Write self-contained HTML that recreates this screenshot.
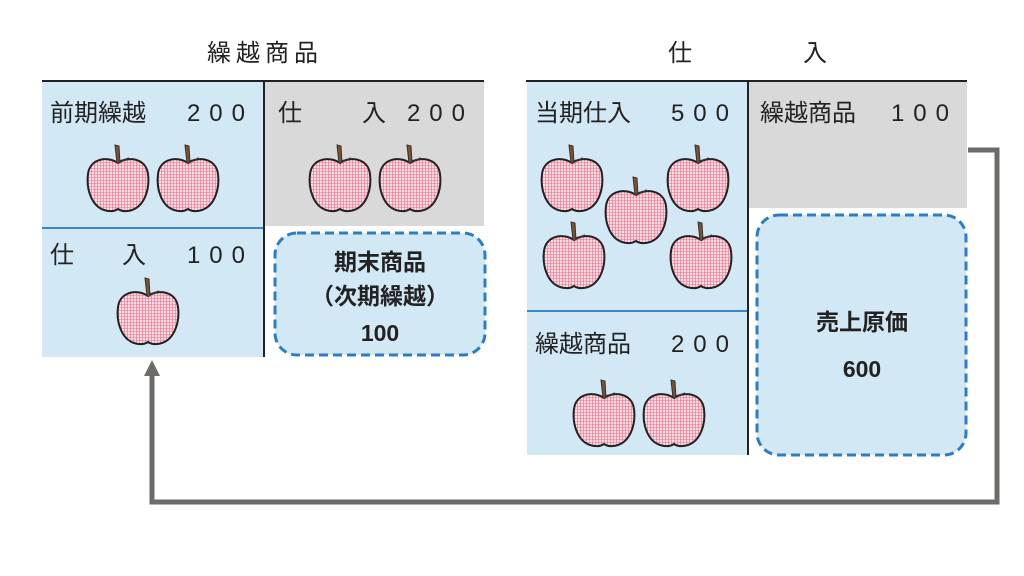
<!DOCTYPE html>
<html><head><meta charset="utf-8"><style>
body{margin:0;width:1024px;height:576px;background:#fff;overflow:hidden}
svg{display:block}
text{font-family:"Liberation Sans","Noto Sans CJK JP",sans-serif;fill:#222}
.b{font-weight:bold}
</style></head><body>
<svg width="1024" height="576" viewBox="0 0 1024 576">
<defs>
<pattern id="p" width="3" height="3" patternUnits="userSpaceOnUse">
<rect width="3" height="3" fill="#fcdde4"/>
<path d="M0 0.5H3M0.5 0V3" stroke="#ec6a85" stroke-width="0.6"/>
</pattern>
<g id="apple">
<path d="M0 -17 C-10 -24 -28 -22 -30 -6 C-32 10 -26 26 -14 30 C-8 32 -3 31 0 29 C3 31 8 32 14 30 C26 26 32 10 30 -6 C28 -22 10 -24 0 -17Z" fill="url(#p)" stroke="#222" stroke-width="2"/>
<path d="M-3 -35 L1 -34 L2 -17 L-1 -17 Z" fill="#7a5230" stroke="#333" stroke-width="1"/>
<path d="M1 -19 Q7 -20 11 -22" stroke="#333" stroke-width="1.5" fill="none"/>
</g>
</defs>
<!-- left account -->
<text x="265" y="61" font-size="24" text-anchor="middle" letter-spacing="5">繰越商品</text>
<rect x="42" y="82" width="221" height="275" fill="#d3e8f5"/>
<line x1="42" y1="228" x2="263" y2="228" stroke="#3a86c8" stroke-width="2"/>
<rect x="265" y="82" width="219" height="144" fill="#d9d9d9"/>
<line x1="42" y1="81" x2="484" y2="81" stroke="#222" stroke-width="2"/>
<line x1="264" y1="82" x2="264" y2="357" stroke="#222" stroke-width="2"/>
<rect x="275" y="233" width="210" height="122" rx="22" fill="#d3e8f5" stroke="#2a7ec7" stroke-width="3" stroke-dasharray="9 5"/>
<text x="50" y="121" font-size="24">前期繰越</text>
<text x="254" y="121" font-size="24" text-anchor="end" letter-spacing="9">200</text>
<text x="278" y="121" font-size="24">仕</text><text x="362" y="121" font-size="24">入</text>
<text x="474" y="121" font-size="24" text-anchor="end" letter-spacing="9">200</text>
<text x="50" y="263" font-size="24">仕</text><text x="122" y="263" font-size="24">入</text>
<text x="254" y="263" font-size="24" text-anchor="end" letter-spacing="9">100</text>
<text x="380" y="270" font-size="23" class="b" text-anchor="middle">期末商品</text>
<text x="380" y="304" font-size="23" class="b" text-anchor="middle">（次期繰越）</text>
<text x="380" y="341" font-size="23" class="b" text-anchor="middle">100</text>
<use href="#apple" x="118" y="180"/><use href="#apple" x="188" y="180"/>
<use href="#apple" x="340" y="180"/><use href="#apple" x="410" y="180"/>
<use href="#apple" x="148" y="313"/>
<!-- right account -->
<text x="680" y="61" font-size="24" text-anchor="middle">仕</text>
<text x="815" y="61" font-size="24" text-anchor="middle">入</text>
<rect x="527" y="82" width="220" height="373" fill="#d3e8f5"/>
<line x1="527" y1="311" x2="747" y2="311" stroke="#3a86c8" stroke-width="2"/>
<rect x="749" y="82" width="218" height="126" fill="#d9d9d9"/>
<line x1="526" y1="81" x2="967" y2="81" stroke="#222" stroke-width="2"/>
<line x1="748" y1="82" x2="748" y2="455" stroke="#222" stroke-width="2"/>
<rect x="757" y="215" width="209" height="240" rx="22" fill="#d3e8f5" stroke="#2a7ec7" stroke-width="3" stroke-dasharray="9 5"/>
<text x="535" y="121" font-size="24">当期仕入</text>
<text x="738" y="121" font-size="24" text-anchor="end" letter-spacing="9">500</text>
<text x="760" y="121" font-size="24">繰越商品</text>
<text x="958" y="121" font-size="24" text-anchor="end" letter-spacing="9">100</text>
<text x="535" y="352" font-size="24">繰越商品</text>
<text x="738" y="352" font-size="24" text-anchor="end" letter-spacing="9">200</text>
<text x="862" y="330" font-size="23" class="b" text-anchor="middle">売上原価</text>
<text x="862" y="377" font-size="23" class="b" text-anchor="middle">600</text>
<use href="#apple" x="572" y="180"/><use href="#apple" x="698" y="180"/>
<use href="#apple" x="636" y="212"/>
<use href="#apple" x="574" y="257"/><use href="#apple" x="701" y="257"/>
<use href="#apple" x="604" y="415"/><use href="#apple" x="674" y="415"/>
<!-- connector -->
<polyline points="968,150 997,150 997,502 152,502 152,372" fill="none" stroke="#6d6a68" stroke-width="5"/>
<polygon points="152,360 144,376 160,376" fill="#6d6a68"/>
</svg>
</body></html>
